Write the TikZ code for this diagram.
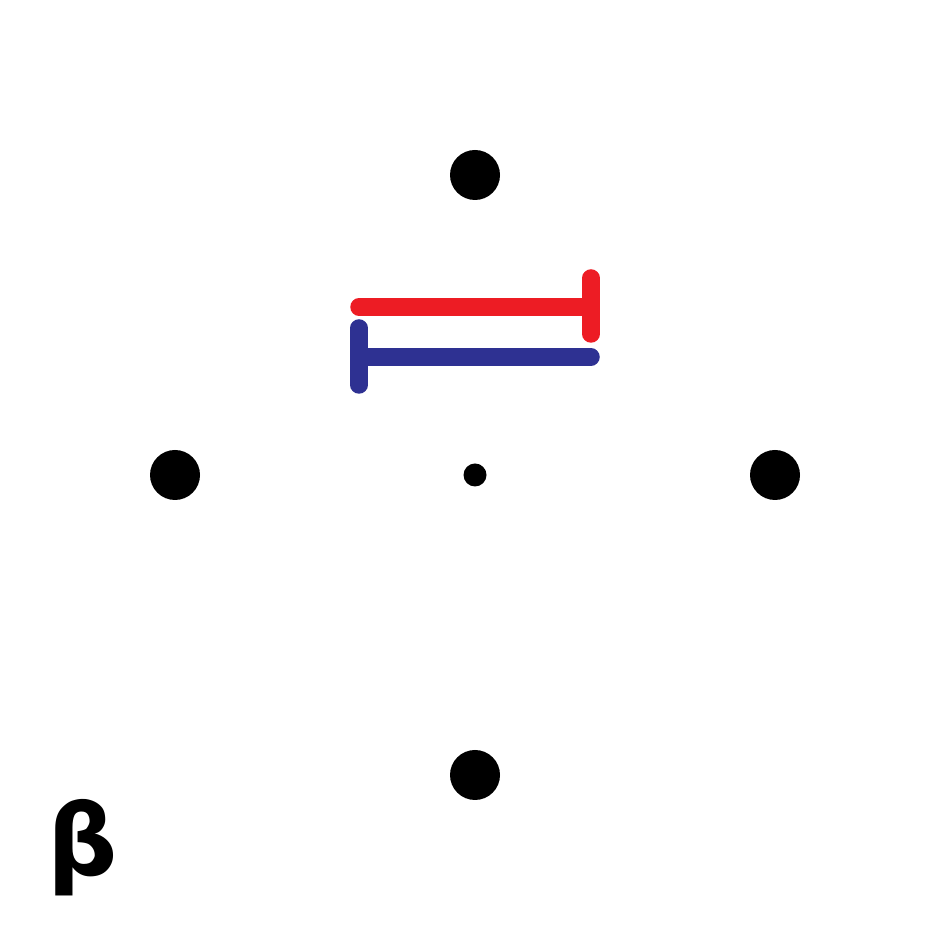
\documentclass[tikz,border=0pt]{standalone}
\usepackage{fontspec}
\newfontfamily\betafont{DejaVu Sans}
\usetikzlibrary{positioning}
\definecolor{BarRed}{HTML}{ED1C24}
\definecolor{BarBlue}{HTML}{2E3192}

\begin{document}
\begin{tikzpicture}[
        site/.style={circle, fill=black, inner sep=0pt, minimum size=0.5cm},
        hub/.style={circle, fill=black, inner sep=0pt, minimum size=0.23cm},
        bar/.style={line width=0.175cm, line cap=round}]

        \useasboundingbox (0,0) rectangle (9.5,9.5);

        \node[hub] (centre) at (4.75,4.75) {};
        \node[site] (top) at (4.75,7.75) {};
        \node[site] (left) at (1.75,4.75) {};
        \node[site] (right) at (7.75,4.75) {};
        \node[site] (bottom) at (4.75,1.75) {};

        % the two bars
        \draw[bar, BarRed] (3.59,6.43) -- (5.91,6.43);
        \draw[bar, BarRed] (5.91,6.72) -- (5.91,6.16);
        \draw[bar, BarBlue] (3.59,5.93) -- (5.91,5.93);
        \draw[bar, BarBlue] (3.59,6.22) -- (3.59,5.65);

        \node[font=\betafont\bfseries\fontsize{28}{28}\selectfont, inner sep=0pt] (label) at (0.83,1.02) {β};
\end{tikzpicture}
\end{document}
